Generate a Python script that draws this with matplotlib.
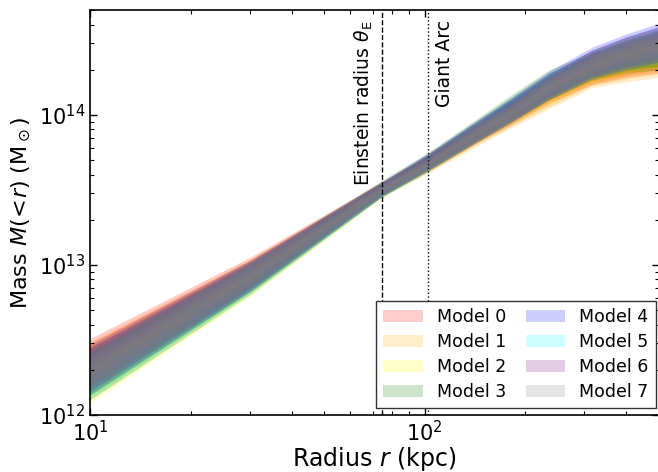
import numpy as np
import matplotlib
matplotlib.use("Agg")
import matplotlib.pyplot as plt
from matplotlib.patches import Patch

# Radii (kpc) at which the band bounds were read
radius = [10, 30, 74, 102, 140, 180, 235, 315, 400, 500]

# log10 M(<r) lower / upper bounds per model
m0_lo = [12.20, 12.85, 13.46, 13.62, 13.80, 13.93, 14.08, 14.20, 14.25, 14.28]
m0_hi = [12.51, 13.05, 13.55, 13.72, 13.92, 14.06, 14.22, 14.36, 14.44, 14.50]
m1_lo = [12.18, 12.84, 13.45, 13.61, 13.78, 13.91, 14.04, 14.18, 14.22, 14.25]
m1_hi = [12.49, 13.04, 13.55, 13.71, 13.90, 14.04, 14.19, 14.33, 14.41, 14.47]
m2_lo = [12.08, 12.79, 13.44, 13.62, 13.80, 13.94, 14.09, 14.22, 14.28, 14.32]
m2_hi = [12.40, 13.00, 13.54, 13.73, 13.93, 14.08, 14.25, 14.40, 14.49, 14.55]
m3_lo = [12.10, 12.80, 13.45, 13.63, 13.81, 13.95, 14.10, 14.23, 14.28, 14.30]
m3_hi = [12.42, 13.01, 13.56, 13.75, 13.96, 14.13, 14.30, 14.42, 14.49, 14.55]
m4_lo = [12.14, 12.82, 13.45, 13.63, 13.81, 13.95, 14.11, 14.25, 14.32, 14.36]
m4_hi = [12.45, 13.02, 13.55, 13.74, 13.95, 14.11, 14.29, 14.45, 14.54, 14.61]
m5_lo = [12.11, 12.81, 13.45, 13.62, 13.81, 13.95, 14.10, 14.24, 14.30, 14.34]
m5_hi = [12.42, 13.01, 13.54, 13.73, 13.94, 14.10, 14.27, 14.42, 14.51, 14.58]
m6_lo = [12.16, 12.83, 13.46, 13.63, 13.81, 13.95, 14.10, 14.24, 14.30, 14.35]
m6_hi = [12.47, 13.03, 13.55, 13.74, 13.94, 14.10, 14.27, 14.43, 14.52, 14.59]
m7_lo = [12.13, 12.82, 13.45, 13.62, 13.80, 13.94, 14.10, 14.23, 14.30, 14.34]
m7_hi = [12.46, 13.03, 13.55, 13.73, 13.94, 14.09, 14.27, 14.43, 14.52, 14.58]

model_names = ["Model 0", "Model 1", "Model 2", "Model 3",
               "Model 4", "Model 5", "Model 6", "Model 7"]
model_colors = ["red", "orange", "yellow", "green", "blue", "cyan", "purple", "gray"]
layer_counts = [5, 5, 5, 5, 5, 5, 5, 12]

einstein_radius = 74.4
giant_arc = 102.0

lows = [m0_lo, m1_lo, m2_lo, m3_lo, m4_lo, m5_lo, m6_lo, m7_lo]
highs = [m0_hi, m1_hi, m2_hi, m3_hi, m4_hi, m5_hi, m6_hi, m7_hi]

fig = plt.figure(figsize=(6.58, 4.72), dpi=100)
ax = fig.add_axes([90/658, 57/472, 1.001 - 90/658, 405/472])

r = np.array(radius, dtype=float)
for lo, hi, col, n_layers in zip(lows, highs, model_colors, layer_counts):
    lo = np.array(lo)
    hi = np.array(hi)
    c = 0.5 * (lo + hi)
    h = 0.5 * (hi - lo)
    for k in range(n_layers):
        f = 1.0 - k / n_layers
        ax.fill_between(r, 10 ** (c - f * h), 10 ** (c + f * h),
                        color=col, alpha=0.2, linewidth=0)

ax.axvline(einstein_radius, color="k", ls="--", lw=1)
ax.axvline(giant_arc, color="k", ls=":", lw=1)

ax.set_xscale("log")
ax.set_yscale("log")
ax.set_xlim(10, 500)
ax.set_ylim(1e12, 5e14)

tr = ax.get_xaxis_transform()
ax.text(einstein_radius * 0.955, 0.975, r"Einstein radius $\theta_{\rm E}$",
        rotation=90, ha="right", va="top", transform=tr, fontsize=13.5)
ax.text(giant_arc * 1.055, 0.975, "Giant Arc",
        rotation=90, ha="left", va="top", transform=tr, fontsize=13.5)

ax.set_xlabel(r"Radius $r$ (kpc)", fontsize=17, labelpad=0)
ax.set_ylabel(r"Mass $M(\!<\!r)$ (M$_\odot$)", fontsize=16)

ax.tick_params(which="both", direction="in", top=True, right=True, labelsize=15)
ax.tick_params(which="major", length=5, width=1)
ax.tick_params(which="minor", length=3, width=0.8)
for s in ax.spines.values():
    s.set_linewidth(1.2)

handles = [Patch(facecolor=c, alpha=0.2, edgecolor="none") for c in model_colors]
leg = ax.legend(handles, model_names, loc="lower right", ncol=2, fontsize=12.5,
                bbox_to_anchor=((655 - 90) / 568, 7 / 405),
                fancybox=False, framealpha=1, edgecolor="0.2",
                handlelength=2.3, handleheight=0.7, columnspacing=1.1,
                labelspacing=0.4, borderaxespad=0.0, borderpad=0.4)
leg.get_frame().set_linewidth(1.0)

fig.savefig("out.png", dpi=100)
